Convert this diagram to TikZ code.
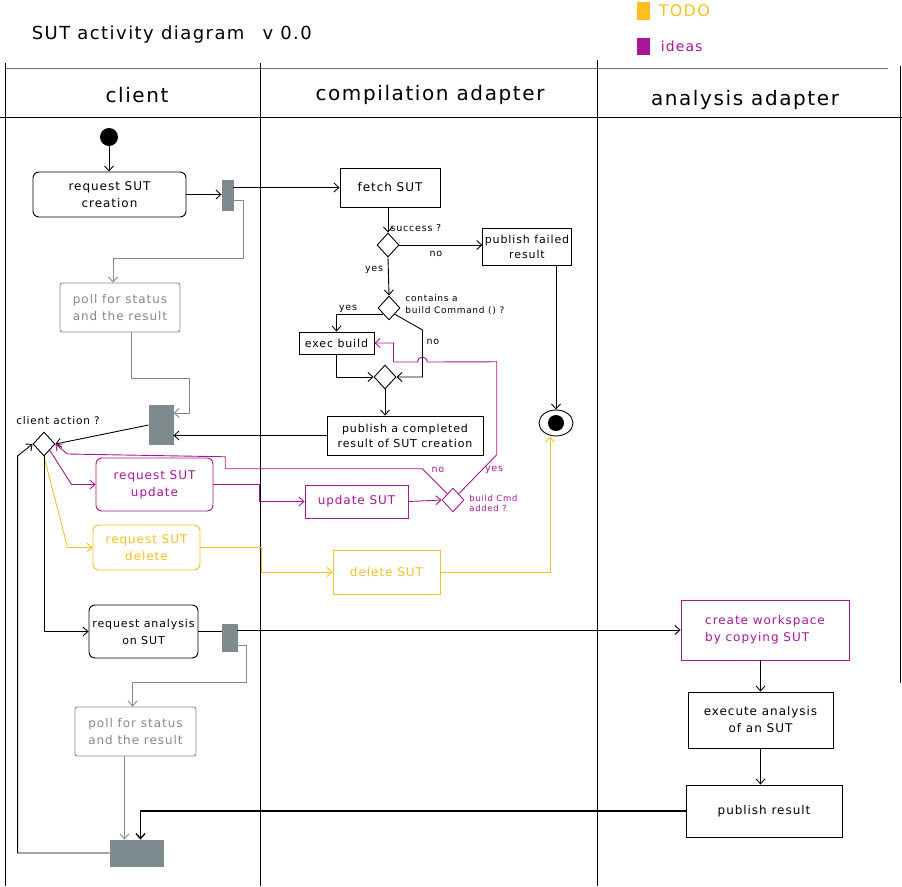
\documentclass[tikz,border=0pt]{standalone}
\usepackage{fontspec}
\setmainfont{DejaVu Sans}[LetterSpace=8]
\usetikzlibrary{arrows.meta,shapes.geometric,calc}
\definecolor{ideas}{RGB}{170,20,150}
\definecolor{todo}{RGB}{255,190,30}
\definecolor{pollgray}{RGB}{125,138,142}
\definecolor{lanegray}{RGB}{110,110,110}
\begin{document}
\begin{tikzpicture}[x=1pt,y=-1pt, line width=0.9pt,
  >={Straight Barb[length=5pt,width=9pt]},
  txt/.style={font=\fontsize{12}{17}\selectfont, align=center},
  act/.style={txt, draw, rounded corners=6pt, inner sep=2pt},
  sq/.style={txt, draw, inner sep=2pt},
  ideabox/.style={draw=ideas, text=ideas},
  todobox/.style={draw=todo, text=todo},
  pollbox/.style={sq, draw=pollgray, text=pollgray, rounded corners=2pt},
  bar/.style={draw=pollgray, fill=pollgray, inner sep=0pt},
  dia/.style={draw, diamond, inner sep=0pt, minimum width=22pt, minimum height=24pt},
  lbl/.style={font=\fontsize{9.5}{11}\selectfont, align=left, inner sep=1pt},
  conn/.style={->},
  gconn/.style={->, draw=pollgray},
  iconn/.style={->, draw=ideas},
  tconn/.style={->, draw=todo},
  header/.style={font=\fontsize{20}{24}\selectfont}]
\useasboundingbox (0,0) rectangle (902,886);

% lanes
\draw[lanegray, line width=1pt] (5,68) -- (888,68);
\draw[line width=0.8pt] (0,117) -- (902,117);
\draw[line width=0.7pt] (5,63) -- (5,886);
\draw[line width=0.7pt] (260,63) -- (260,886);
\draw[line width=0.7pt] (597,60) -- (597,886);
\draw[line width=0.7pt] (900,66) -- (900,683);

% title and legend
\node[font=\fontsize{18}{20}\selectfont, anchor=west] (title) at (28,35) {SUT activity diagram\quad v 0.0};
\node[fill=todo, minimum width=13pt, minimum height=18pt, inner sep=0pt] (legTodo) at (643,11) {};
\node[text=todo, anchor=west, font=\fontsize{16}{18}\selectfont] (txtTodo) at (655,11) {TODO};
\node[fill=ideas, minimum width=13pt, minimum height=17pt, inner sep=0pt] (legIdeas) at (643,46) {};
\node[text=ideas, anchor=west, font=\fontsize{14}{16}\selectfont] (txtIdeas) at (657,46) {ideas};

% headers
\node[header] (hClient) at (137,95) {client};
\node[header] (hComp) at (430,95) {compilation adapter};
\node[header] (hAna) at (745,100) {analysis adapter};

% client lane
\node[fill, circle, minimum size=18pt, inner sep=0pt] (start) at (109,137) {};
\node[act, minimum width=153pt, minimum height=45pt] (reqCreate) at (109.5,194.5) {request SUT\\creation};
\node[bar, minimum width=11pt, minimum height=30pt] (bar1) at (227.5,195) {};
\node[pollbox, minimum width=120pt, minimum height=49pt] (poll1) at (120,307.5) {poll for status\\and the result};
\node[bar, minimum width=24pt, minimum height=39pt] (bar2) at (161,425) {};
\node[dia] (dClient) at (44,444) {};
\node[lbl, font=\fontsize{10.5}{12}\selectfont] (lblClient) at (58,421) {client action ?};
\node[act, ideabox, minimum width=117pt, minimum height=53pt] (reqUpd) at (154.5,484.5) {request SUT\\update};
\node[act, todobox, minimum width=107pt, minimum height=45pt] (reqDel) at (146.5,547.5) {request SUT\\delete};
\node[act, minimum width=109pt, minimum height=53pt, font=\fontsize{11}{17}\selectfont] (reqAna) at (143.5,631.5) {request analysis\\on SUT};
\node[bar, minimum width=15pt, minimum height=27pt] (bar3) at (229.5,638) {};
\node[pollbox, minimum width=121pt, minimum height=49pt] (poll2) at (135.5,731.5) {poll for status\\and the result};
\node[bar, minimum width=53pt, minimum height=26pt] (bar4) at (136.5,853) {};

% compilation lane
\node[sq, minimum width=100pt, minimum height=39pt] (fetch) at (390,187.5) {fetch SUT};
\node[dia] (dSucc) at (388,245) {};
\node[lbl] (lSucc) at (416,228) {success ?};
\node[sq, minimum width=86pt, minimum height=37pt, font=\fontsize{11}{15}\selectfont] (pubFail) at (527,246.5) {publish failed\\result};
\node[lbl] (lSuccNo) at (436,254) {no};
\node[lbl] (lSuccYes) at (374,270) {yes};
\node[dia] (dCont) at (389,308) {};
\node[lbl, anchor=west, font=\fontsize{9}{12}\selectfont] (lCont) at (404,305) {contains a\\build Command () ?};
\node[lbl] (lContYes) at (348,309) {yes};
\node[lbl] (lContNo) at (433,342) {no};
\node[sq, minimum width=75pt, minimum height=22pt, font=\fontsize{11}{13}\selectfont] (execB) at (336.5,343) {exec build};
\node[dia] (dMerge) at (385,377) {};
\node[sq, minimum width=156pt, minimum height=39pt, font=\fontsize{11}{15}\selectfont] (pubComp) at (405,435.5) {publish a completed\\result of SUT creation};
\node[draw, ellipse, minimum width=34pt, minimum height=26pt, inner sep=0pt] (endN) at (556,423) {};
\node[fill, circle, minimum size=16pt, inner sep=0pt] (endDot) at (endN) {};
\node[sq, ideabox, minimum width=103pt, minimum height=33pt] (updSUT) at (356.5,501.5) {update SUT};
\node[dia, draw=ideas] (dBuild) at (453,500) {};
\node[lbl, text=ideas, anchor=west, font=\fontsize{8.5}{10}\selectfont] (lBuild) at (468,503) {build Cmd\\added ?};
\node[lbl, text=ideas] (lBuildNo) at (438,470) {no};
\node[lbl, text=ideas] (lBuildYes) at (494,470) {yes};
\node[sq, todobox, minimum width=107pt, minimum height=44pt] (delSUT) at (386.5,572) {delete SUT};

% analysis lane
\node[sq, ideabox, minimum width=168pt, minimum height=60pt, align=left] (create) at (765,630) {create workspace\\by copying SUT};
\node[sq, minimum width=145pt, minimum height=56pt] (exec) at (760.5,720) {execute analysis\\of an SUT};
\node[sq, minimum width=156pt, minimum height=52pt] (pubRes) at (764,811) {publish result};

% connectors: client lane
\draw[conn] (start) -- (reqCreate.north -| start);
\draw[conn] (reqCreate.east) -- (bar1.west |- reqCreate.east);
\draw[conn] (bar1.east |- fetch.west) -- (fetch.west);
\draw[gconn] ($(bar1.east)+(0,5)$) -| ($(bar1.east)+(10,63)$) -| ($(poll1.north)+(-7,0)$);
\draw[gconn] ($(poll1.south)+(11,0)$) |- ($(bar2.east)+(16,-47)$) |- ($(bar2.east)+(0,-12)$);
\draw[conn] (pubComp.west) -- (bar2.east |- pubComp.west);
\draw[conn] (bar2.west) -- (dClient.east);
\draw[iconn] (dClient.south east) -- ($(reqUpd.west)+(-24,0)$) -- (reqUpd.west);
\draw[tconn] (dClient.south) -- ($(reqDel.west)+(-25,0)$) -- (reqDel.west);
\draw[conn] (dClient.south) |- (reqAna.west);
\draw[conn] (bar4.west) -| ($(dClient.west)+(-15,12)$) -- (dClient.west);
\draw (reqAna.east) -- (bar3.west |- reqAna.east);
\draw[conn] (bar3.east |- create.west) -- (create.west);
\draw[gconn] ($(bar3.east)+(0,7)$) -- ++(9,0) |- ($(poll2.north)+(-3,-24)$) -- ($(poll2.north)+(-3,0)$);
\draw[gconn] ($(poll2.south)+(-11,0)$) -- ($(bar4.north)+(-12,0)$);
\draw[->, line width=1.3pt] (pubRes.west) -| ($(bar4.north)+(4,0)$);

% connectors: compilation lane
\draw[conn] (fetch.south -| dSucc.north) -- (dSucc.north);
\draw[conn] (dSucc.east) -- (pubFail.west |- dSucc.east);
\draw[conn] (dSucc.south) -- (dCont.north);
\draw[conn] (dCont.south west) -| (execB.north);
\draw[conn] (dCont.south east) -- ($(dMerge.east)+(26,-47)$) |- (dMerge.east);
\draw[conn] (execB.south) |- (dMerge.west);
\draw[conn] (dMerge.south) -- (dMerge.south |- pubComp.north);
\draw[conn] (pubFail.south -| endN.north) -- (endN.north);
\draw[iconn] (reqUpd.east) -| ($(updSUT.west)+(-45,0)$) -- (updSUT.west);
\draw[iconn] (updSUT.east) -- (dBuild.west);
\draw[iconn] (dBuild.north west) -- ++(-25,-25) -- ++(-197,0) -- ++(0,-12) -- ($(dClient.east)+(12,10)$) -- (dClient.east);
\draw[iconn] (dBuild.north east) -- ++(38,-39) -- ++(0,-93) -- ($(dMerge.east)+(31,-15)$) arc[start angle=0, end angle=180, radius=5pt] -- ++(-24,0) |- (execB.east);
\draw[tconn] (reqDel.east) -| ($(delSUT.west)+(-71,0)$) -- (delSUT.west);
\draw[tconn] (delSUT.east) -| ($(endN.south)+(-6,0)$);

% connectors: analysis lane
\draw[conn] (create.south -| exec.north) -- (exec.north);
\draw[conn] (exec.south) -- (exec.south |- pubRes.north);
\end{tikzpicture}
\end{document}
